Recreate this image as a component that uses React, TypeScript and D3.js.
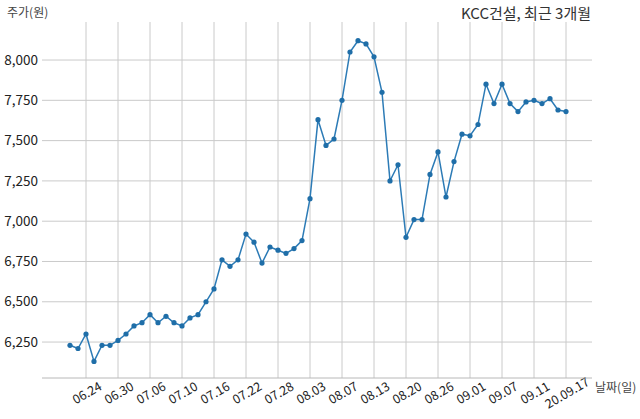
import React from 'react';
import * as d3 from 'd3';

// trading days, 2020
const dates = [
  '06.22', '06.23', '06.24', '06.25', '06.26', '06.29', '06.30',
  '07.01', '07.02', '07.03', '07.06', '07.07', '07.08', '07.09', '07.10',
  '07.13', '07.14', '07.15', '07.16', '07.17', '07.20', '07.21', '07.22',
  '07.23', '07.24', '07.27', '07.28', '07.29', '07.30', '07.31',
  '08.03', '08.04', '08.05', '08.06', '08.07', '08.10', '08.11', '08.12',
  '08.13', '08.14', '08.18', '08.19', '08.20', '08.21', '08.24', '08.25',
  '08.26', '08.27', '08.28', '08.31',
  '09.01', '09.02', '09.03', '09.04', '09.07', '09.08', '09.09', '09.10',
  '09.11', '09.14', '09.15', '09.16', '09.17',
];

const prices = [
  6230, 6210, 6300, 6130, 6230, 6230, 6260,
  6300, 6350, 6370, 6420, 6370, 6410, 6370, 6350,
  6400, 6420, 6500, 6580, 6760, 6720, 6760, 6920,
  6870, 6740, 6840, 6820, 6800, 6830, 6880,
  7140, 7630, 7470, 7510, 7750, 8050, 8120, 8100,
  8020, 7800, 7250, 7350, 6900, 7010, 7010, 7290,
  7430, 7150, 7370, 7540,
  7530, 7600, 7850, 7730, 7850, 7730, 7680, 7740,
  7750, 7730, 7760, 7690, 7680,
];

const tickDates = ['06.24', '06.30', '07.06', '07.10', '07.16', '07.22', '07.28', '08.03',
  '08.07', '08.13', '08.20', '08.26', '09.01', '09.07', '09.11', '09.17'];
const tickLabels = ['06.24', '06.30', '07.06', '07.10', '07.16', '07.22', '07.28', '08.03',
  '08.07', '08.13', '08.20', '08.26', '09.01', '09.07', '09.11', '20.09.17'];
const yTicks = [6250, 6500, 6750, 7000, 7250, 7500, 7750, 8000];

const title = 'KCC건설, 최근 3개월';
const yTitle = '주가(원)';
const xTitle = '날짜(일)';

const W = 640;
const H = 419;
const font = '"Noto Sans CJK KR", "Noto Sans", sans-serif';

const App: React.FC = () => {
  const left = 42;
  const right = 592;
  const top = 22;
  const bottom = 378;

  const x = d3.scalePoint<string>().domain(dates).range([70, 566]);
  const y = d3.scaleLinear().domain([6027, 8236]).range([bottom, top]);

  const line = d3.line<number>()
    .x((_, i) => x(dates[i]) as number)
    .y(d => y(d));

  const fmt = d3.format(',');

  return (
    <div style={{ position: 'fixed', left: 0, top: 0 }}>
      <svg width={W} height={H} viewBox={`0 0 ${W} ${H}`} style={{ display: 'block', background: '#fff' }}>
        {/* horizontal grid + y labels */}
        {yTicks.map(t => (
          <g key={`y-${t}`}>
            <line x1={left} x2={right} y1={y(t)} y2={y(t)} stroke="#cacaca" strokeWidth={1} />
            <text x={38} y={y(t)} dy="0.35em" textAnchor="end" fontFamily={font} fontSize={13.5} fill="#222">
              {fmt(t)}
            </text>
          </g>
        ))}

        {/* vertical grid + x labels */}
        {tickDates.map((d, i) => {
          const px = x(d) as number;
          return (
            <g key={`x-${d}`}>
              <line x1={px} x2={px} y1={top} y2={bottom} stroke="#cacaca" strokeWidth={1} />
              <text
                transform={`translate(${px + 1},${bottom + 15}) rotate(-30)`}
                textAnchor="middle"
                dy="0.35em"
                fontFamily={font}
                fontSize={12.5}
                fill="#222"
              >
                {tickLabels[i]}
              </text>
            </g>
          );
        })}

        {/* bottom axis line */}
        <line x1={left} x2={right} y1={bottom} y2={bottom} stroke="#b8b8b8" strokeWidth={1} />

        {/* price line */}
        <path d={line(prices) || ''} fill="none" stroke="#2c7bb6" strokeWidth={1.5} />
        {prices.map((p, i) => (
          <circle key={`pt-${i}`} cx={x(dates[i]) as number} cy={y(p)} r={2.6} fill="#1f6ea8" />
        ))}

        {/* titles */}
        <text x={7} y={17} fontFamily={font} fontSize={12} fill="#444">{yTitle}</text>
        <text x={591} y={19} textAnchor="end" fontFamily={font} fontSize={15} fill="#333">{title}</text>
        <text x={595} y={392} fontFamily={font} fontSize={12} fill="#444">{xTitle}</text>
      </svg>
    </div>
  );
};

export default App;
